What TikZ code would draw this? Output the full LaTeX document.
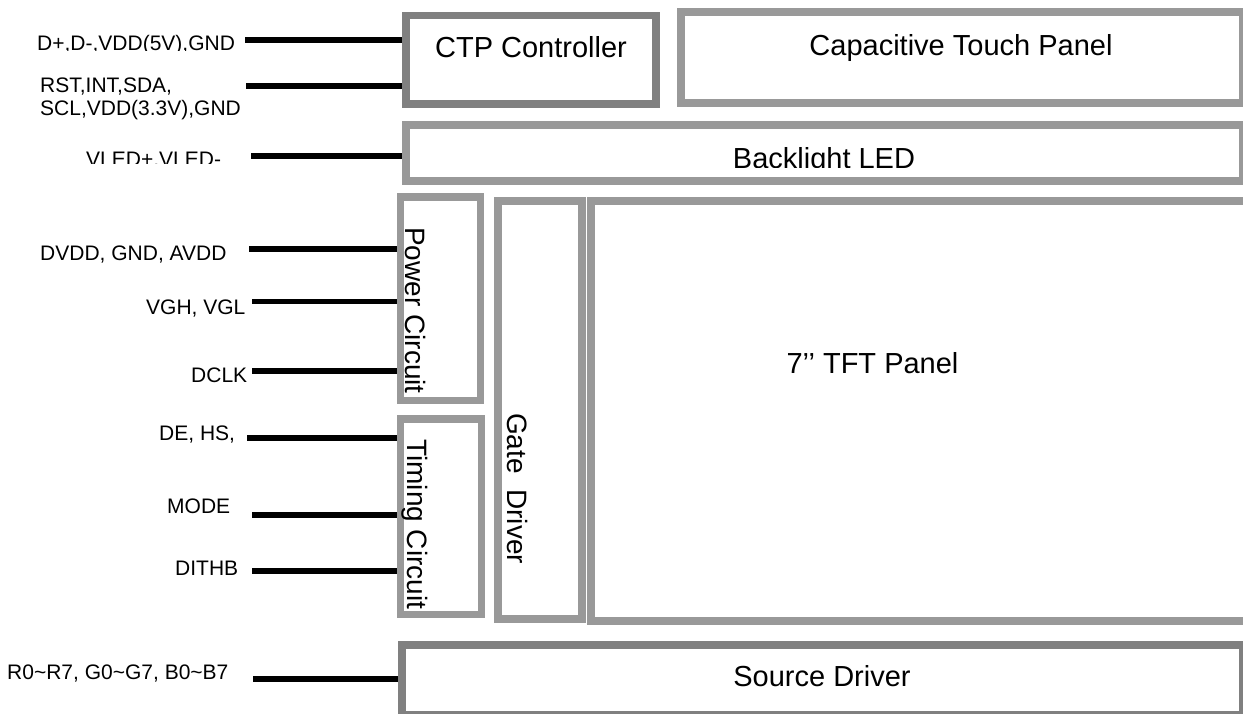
\documentclass[tikz,border=0pt]{standalone}
\usepackage{fontspec}
\setmainfont{Liberation Sans}
\definecolor{lgray}{RGB}{153,153,153}
\definecolor{dgray}{RGB}{128,128,128}
\begin{document}
\begin{tikzpicture}[x=1pt,y=-1pt,
  box/.style={draw=lgray, line width=7.5pt, fill=white, inner sep=0pt},
  dbox/.style={box, draw=dgray},
  sig/.style={line width=5.5pt, draw=black},
  lbl/.style={inner sep=0pt, anchor=base west, font=\fontsize{21}{23}\selectfont},
  ttl/.style={inner sep=0pt, anchor=base, font=\fontsize{29}{34}\selectfont},
  vtl/.style={inner sep=0pt, rotate=-90, anchor=base west, font=\fontsize{28}{33}\selectfont}]
\useasboundingbox (0,0) rectangle (1243,713);
\fill[white] (0,0) rectangle (1243,713);
\clip (0,0) rectangle (1243,713);

% boxes
\node[dbox, minimum width=250pt, minimum height=88.5pt] (ctp) at (531,59.75) {};
\node[box, line width=8pt, minimum width=562pt, minimum height=91pt] (ctpanel) at (962,57.5) {};
\node[box, line width=8pt, minimum width=837pt, minimum height=56pt] (blled) at (824.5,153) {};
\node[box, minimum width=80pt, minimum height=203.5pt] (power) at (440.5,298.75) {};
\node[box, minimum width=81pt, minimum height=195.5pt] (timing) at (441,516.75) {};
\node[box, line width=8pt, minimum width=83.5pt, minimum height=418.5pt] (gate) at (539.75,409.75) {};
\node[box, line width=8pt, minimum width=669pt, minimum height=419.5pt] (tft) at (925.5,410.75) {};
\node[dbox, line width=8pt, minimum width=841.5pt, minimum height=70pt] (source) at (822.25,680) {};

% box titles
\node[ttl] (tctp) at (531,57) {CTP Controller};
\node[ttl] (tpanel) at (961,55) {Capacitive Touch Panel};
\begin{scope}
  \clip (400,120) rectangle (1243,167);
  \node[ttl] (tbl) at (824,168) {Backlight LED};
\end{scope}
\node[ttl] (ttft) at (872.5,373) {7’{}’ TFT Panel};
\node[ttl] (tsrc) at (822,686) {Source Driver};
\node[vtl] (tpow) at (405,227) {Power Circuit};
\node[vtl] (ttim) at (407,439) {Timing Circuit};
\node[vtl] (tgate) at (507,413) {Gate\ \ Driver};

% signal labels
\begin{scope}
  \clip (0,0) rectangle (300,50.5);
  \node[lbl] (l1) at (37,50) {D+,D-,VDD(5V),GND};
\end{scope}
\node[lbl] (l2a) at (40,92) {RST,INT,SDA,};
\node[lbl] (l2b) at (40,115) {SCL,VDD(3.3V),GND};
\begin{scope}
  \clip (0,120) rectangle (300,163.5);
  \node[lbl] (l3) at (86,166.5) {VLED+,VLED-};
\end{scope}
\node[lbl] (l4) at (40,260) {DVDD, GND, AVDD};
\node[lbl] (l5) at (146,314) {VGH, VGL};
\node[lbl] (l6) at (191,382) {DCLK};
\node[lbl] (l7) at (159,440) {DE, HS,};
\node[lbl] (l8) at (167,513) {MODE};
\node[lbl] (l9) at (175,575) {DITHB};
\node[lbl] (l10) at (7,679) {R0\char`~R7, G0\char`~G7, B0\char`~B7};

% connector start points
\coordinate (s1) at (245,40);
\coordinate (s2) at (246,86);
\coordinate (s3) at (251,156);
\coordinate (s4) at (249,249);
\coordinate (s5) at (252,301.5);
\coordinate (s6) at (252,371);
\coordinate (s7) at (247,438);
\coordinate (s8) at (252,515);
\coordinate (s9) at (252,571);
\coordinate (s10) at (253,679);

% connectors
\draw[sig] (s1) -- (s1 -| ctp.west);
\draw[sig] (s2) -- (s2 -| ctp.west);
\draw[sig] (s3) -- (s3 -| blled.west);
\draw[sig] (s4) -- (s4 -| power.west);
\draw[sig] (s5) -- (s5 -| power.west);
\draw[sig] (s6) -- (s6 -| power.west);
\draw[sig] (s7) -- (s7 -| timing.west);
\draw[sig] (s8) -- (s8 -| timing.west);
\draw[sig] (s9) -- (s9 -| timing.west);
\draw[sig] (s10) -- (s10 -| source.west);
\end{tikzpicture}
\end{document}
